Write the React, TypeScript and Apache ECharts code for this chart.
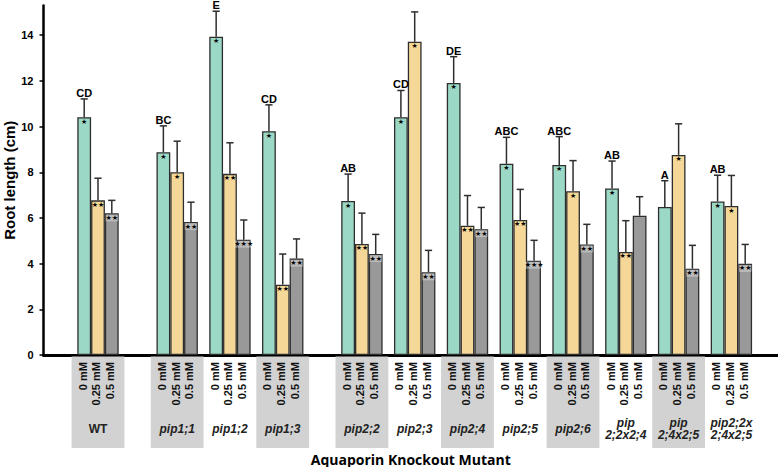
import React, { useEffect, useRef } from "react";
import * as echarts from "echarts";

// ---------- data ----------
const groups = [
  "WT", "pip1;1", "pip1;2", "pip1;3", "pip2;2", "pip2;3", "pip2;4", "pip2;5", "pip2;6",
  "pip\n2;2x2;4", "pip\n2;4x2;5", "pip2;2x\n2;4x2;5",
];
// position of each genotype on the x axis (gaps after WT and pip1;3)
const positions = [0, 3, 5, 7, 10, 12, 14, 16, 18, 20, 22, 24];
const shaded = [1, 1, 0, 1, 1, 0, 1, 0, 1, 0, 1, 0];
const concLabels = ["0 mM", "0.25 mM", "0.5 mM"];

const mean0 = [10.41, 8.88, 13.93, 9.8, 6.74, 10.41, 11.91, 8.37, 8.32, 7.29, 6.48, 6.72];
const mean025 = [6.77, 8.0, 7.93, 3.08, 4.86, 13.71, 5.66, 5.91, 7.17, 4.51, 8.76, 6.52];
const mean05 = [6.2, 5.82, 5.05, 4.22, 4.42, 3.62, 5.51, 4.13, 4.84, 6.1, 3.78, 3.99];

const sd0 = [0.8, 1.15, 1.12, 1.15, 1.18, 1.17, 1.15, 1.16, 1.24, 1.2, 1.15, 1.15];
const sd025 = [0.97, 1.36, 1.36, 1.34, 1.35, 1.31, 1.32, 1.34, 1.34, 1.37, 1.36, 1.34];
const sd05 = [0.57, 0.87, 0.86, 0.86, 0.86, 0.96, 0.95, 0.89, 0.88, 0.83, 1.02, 0.85];

const stars0 = ["*", "*", "*", "*", "*", "*", "*", "*", "*", "*", "", "*"];
const stars025 = ["**", "*", "**", "**", "**", "*", "**", "**", "*", "**", "*", "*"];
const stars05 = ["**", "**", "***", "**", "**", "**", "**", "***", "**", "", "**", "**"];

const letters = ["CD", "BC", "E", "CD", "AB", "CD", "DE", "ABC", "ABC", "AB", "A", "AB"];

const yTicks = [0, 2, 4, 6, 8, 10, 12, 14];

// ---------- styling ----------
const means = [mean0, mean025, mean05];
const sds = [sd0, sd025, sd05];
const stars = [stars0, stars025, stars05];
const colors = ["#9bd8c6", "#f5d897", "#999999"];
const BAR_W = 13.8;
const FONT = '"Liberation Sans", Arial, sans-serif';

export default function App() {
  const ref = useRef<HTMLDivElement>(null);

  useEffect(() => {
    if (!ref.current) return;
    const chart = echarts.init(ref.current, null, { renderer: "svg" });

    const barSeries = [0, 1, 2].map((k) => ({
      type: "bar",
      data: positions.map((p, i) => [p, means[k][i]]),
      barWidth: BAR_W,
      barGap: "0%",
      itemStyle: { color: colors[k], borderColor: "#2e2e2e", borderWidth: 1.3 },
      label: {
        show: true,
        position: "insideTop",
        distance: 1,
        formatter: (p: any) => stars[k][p.dataIndex].replace(/\*/g, "★"),
        fontSize: 7,
        fontFamily: "DejaVu Sans",
        color: "#000",
        backgroundColor: k === 2 ? "rgba(255,255,255,0.35)" : "transparent",
      },
      z: 2,
    }));

    const errSeries = [0, 1, 2].map((k) => ({
      type: "custom",
      data: positions.map((p, i) => [p, means[k][i], means[k][i] + sds[k][i]]),
      encode: { x: 0, y: [1, 2] },
      z: 3,
      renderItem: (params: any, api: any) => {
        const b = api.coord([api.value(0), api.value(1)]);
        const t = api.coord([api.value(0), api.value(2)]);
        const x = b[0] + (k - 1) * BAR_W;
        const style = { stroke: "#2e2e2e", lineWidth: 1.5 };
        const children: any[] = [
          { type: "line", shape: { x1: x, y1: b[1], x2: x, y2: t[1] }, style },
          { type: "line", shape: { x1: x - 3.6, y1: t[1], x2: x + 3.6, y2: t[1] }, style },
        ];
        if (k === 0) {
          children.push({
            type: "text",
            x: x,
            y: t[1] - 0.5,
            style: {
              text: letters[params.dataIndex],
              font: `bold 11px ${FONT}`,
              fill: "#000",
              align: "center",
              verticalAlign: "bottom",
            },
          });
        }
        return { type: "group", children };
      },
    }));

    const decoSeries = {
      type: "custom",
      data: positions.map((p) => [p, 0]),
      encode: { x: 0, y: 1 },
      clip: false,
      z: 1,
      silent: true,
      renderItem: (params: any, api: any) => {
        const i = params.dataIndex;
        const c = api.coord([api.value(0), 0]);
        const cx = c[0];
        const ay = c[1];
        const children: any[] = [];
        if (shaded[i]) {
          children.push({
            type: "rect",
            shape: { x: cx - 26.4, y: ay + 1.5, width: 52.8, height: 91.5 },
            style: { fill: "#d2d2d2" },
          });
        }
        for (let k = 0; k < 3; k++) {
          children.push({
            type: "text",
            x: cx + (k - 1) * BAR_W - 1.5,
            y: ay + 7,
            rotation: Math.PI / 2,
            style: {
              text: concLabels[k],
              font: `bold 11px ${FONT}`,
              fill: "#111",
              align: "right",
              verticalAlign: "middle",
            },
          });
        }
        const name = groups[i];
        children.push({
          type: "text",
          x: cx,
          y: ay + 74,
          style: {
            text: name,
            font: `${name === "WT" ? "" : "italic "}bold 12px ${FONT}`,
            fill: "#222",
            align: "center",
            verticalAlign: "middle",
            lineHeight: 12.5,
          },
        });
        return { type: "group", children };
      },
    };

    chart.setOption({
      animation: false,
      grid: {
        left: 43.5,
        right: 0,
        top: 5.5,
        bottom: 112,
        containLabel: false,
        outerBoundsMode: "none",
      },
      xAxis: {
        type: "value",
        min: -2.065,
        max: 25.766,
        axisLine: { show: true, onZero: false, lineStyle: { color: "#000", width: 3 } },
        axisTick: { show: false },
        axisLabel: { show: false },
        splitLine: { show: false },
        name: "Aquaporin Knockout Mutant",
        nameLocation: "middle",
        nameGap: 97,
        nameMoveOverlap: false,
        nameTextStyle: {
          fontFamily: '"Open Sans", sans-serif',
          fontWeight: "bold",
          fontSize: 14,
          color: "#000",
        },
      },
      yAxis: {
        type: "value",
        min: 0,
        max: 15.3,
        interval: 2,
        axisLine: { show: true, onZero: false, lineStyle: { color: "#000", width: 2.5 } },
        axisTick: {
          show: true,
          length: 4,
          customValues: yTicks,
          lineStyle: { color: "#000", width: 1.5 },
        },
        axisLabel: {
          customValues: yTicks,
          formatter: (v: number) => (v % 2 === 0 ? String(v) : ""),
          fontWeight: "bold",
          fontSize: 11,
          fontFamily: FONT,
          color: "#000",
          margin: 10,
        },
        splitLine: { show: false },
        name: "Root length (cm)",
        nameLocation: "middle",
        nameGap: 27,
        nameMoveOverlap: false,
        nameTextStyle: { fontFamily: FONT, fontWeight: "bold", fontSize: 15, color: "#000" },
      },
      series: [decoSeries, ...barSeries, ...errSeries],
    });

    return () => chart.dispose();
  }, []);

  return (
    <div
      ref={ref}
      style={{ position: "absolute", left: 0, top: 0, width: 778, height: 467 }}
    />
  );
}
